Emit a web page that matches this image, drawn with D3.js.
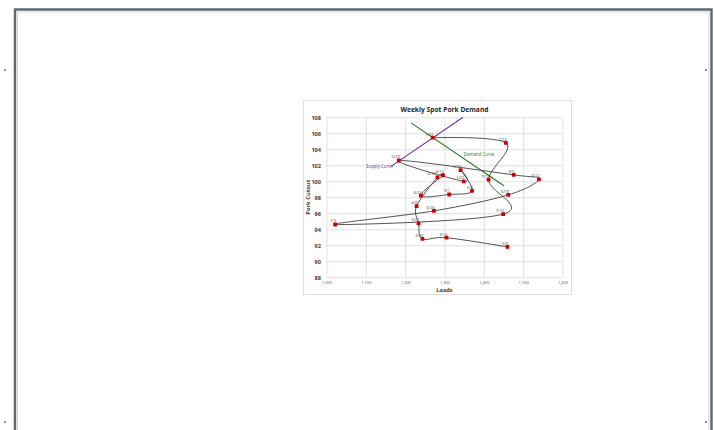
<!DOCTYPE html>
<html>
<head>
<meta charset="utf-8">
<script src="https://cdn.jsdelivr.net/npm/d3@7"></script>
<style>
  html, body { margin: 0; padding: 0; background: #ffffff; }
  svg { display: block; }
  text { font-family: "Open Sans", "Liberation Sans", sans-serif; }
</style>
</head>
<body>
<svg id="page" width="714" height="430"></svg>
<script>
// Weekly observations: week ending, loads sold, pork cutout value
const weeks = ["3/6","3/13","3/20","3/27","4/3","4/10","4/17","4/24","5/1","5/8","5/15","5/22",
               "5/29","6/5","6/12","6/19","6/26","7/3","7/10","7/17","7/24","7/31"];
const loads = [1460, 1305, 1244, 1234, 1229, 1282, 1296, 1240, 1312, 1370, 1341, 1349,
               1184, 1476, 1540, 1462, 1273, 1022, 1449, 1412, 1456, 1270];
const cutout = [91.8, 92.95, 92.8, 94.75, 96.9, 100.5, 100.75, 98.2, 98.35, 98.8, 101.4, 100.0,
                102.6, 100.8, 100.25, 98.3, 96.3, 94.6, 95.9, 100.2, 104.8, 105.45];

// Reference curves (two end points each)
const supplyLoads = [1165, 1347];
const supplyCutout = [101.9, 108];
const demandLoads = [1215, 1451];
const demandCutout = [107.3, 99.45];

// Axis ticks
const xTicks = [1000, 1100, 1200, 1300, 1400, 1500, 1600];
const yTicks = [88, 90, 92, 94, 96, 98, 100, 102, 104, 106, 108];

const svg = d3.select("#page");
const W = 714, H = 430;

// Document page frame
svg.append("path")
  .attr("d", `M15,${H + 5} V9.5 H711.5 V${H + 5}`)
  .attr("fill", "none").attr("stroke", "#5f6973").attr("stroke-width", 2.4);
svg.append("path")
  .attr("d", `M17.5,${H + 5} V12 H709 V${H + 5}`)
  .attr("fill", "none").attr("stroke", "#c3c8cd").attr("stroke-width", 0.8);
[[5, 70], [5, 422], [706, 70], [706, 422]].forEach(([cx, cy]) => {
  svg.append("rect").attr("x", cx - 1).attr("y", cy - 1).attr("width", 2).attr("height", 2)
    .attr("fill", "#8a8f94");
});

// Chart area box
const box = { x: 303.5, y: 100.5, w: 268, h: 194 };
svg.append("rect")
  .attr("x", box.x).attr("y", box.y).attr("width", box.w).attr("height", box.h)
  .attr("fill", "#ffffff").attr("stroke", "#d9d9d9").attr("stroke-width", 0.8);

// Plot area
const plot = { left: 326.5, right: 562.5, top: 117.3, bottom: 277.3 };
const x = d3.scaleLinear().domain([1000, 1600]).range([plot.left, plot.right]);
const y = d3.scaleLinear().domain([88, 108]).range([plot.bottom, plot.top]);

// Gridlines
const grid = svg.append("g");
grid.append("g")
  .attr("transform", `translate(0,${plot.bottom})`)
  .call(d3.axisBottom(x).tickValues(xTicks).tickSize(-(plot.bottom - plot.top)).tickFormat(""))
  .call(g => g.select(".domain").remove())
  .call(g => g.selectAll("line").attr("stroke", "#d9d9d9").attr("stroke-width", 0.8));
grid.append("g")
  .attr("transform", `translate(${plot.left},0)`)
  .call(d3.axisLeft(y).tickValues(yTicks).tickSize(-(plot.right - plot.left)).tickFormat(""))
  .call(g => g.select(".domain").remove())
  .call(g => g.selectAll("line").attr("stroke", "#d9d9d9").attr("stroke-width", 0.8));

// Axis tick labels
svg.append("g")
  .attr("transform", `translate(0,${plot.bottom})`)
  .call(d3.axisBottom(x).tickValues(xTicks).tickSize(0).tickPadding(4).tickFormat(d3.format(",")))
  .call(g => g.select(".domain").remove())
  .call(g => g.selectAll("text").attr("font-size", 4.0).attr("fill", "#595959")
    .attr("font-family", "'Open Sans', sans-serif"));
svg.append("g")
  .attr("transform", `translate(${plot.left},0)`)
  .call(d3.axisLeft(y).tickValues(yTicks).tickSize(0).tickPadding(5.5).tickFormat(d3.format("d")))
  .call(g => g.select(".domain").remove())
  .call(g => g.selectAll("text").attr("font-size", 5.6).attr("font-weight", "bold").attr("fill", "#404040")
    .attr("font-family", "'Open Sans', sans-serif"));

// Titles
svg.append("text")
  .attr("x", (plot.left + plot.right) / 2).attr("y", 108.5)
  .attr("text-anchor", "middle").attr("dominant-baseline", "central")
  .attr("font-size", 7.4).attr("font-weight", "bold").attr("fill", "#262626")
  .attr("textLength", 88).attr("lengthAdjust", "spacingAndGlyphs")
  .text("Weekly Spot Pork Demand");
svg.append("text")
  .attr("x", (plot.left + plot.right) / 2).attr("y", 290)
  .attr("text-anchor", "middle").attr("dominant-baseline", "central")
  .attr("font-size", 5.6).attr("font-weight", "bold").attr("fill", "#404040")
  .text("Loads");
svg.append("text")
  .attr("transform", `translate(307.5,${(plot.top + plot.bottom) / 2}) rotate(-90)`)
  .attr("text-anchor", "middle").attr("dominant-baseline", "central")
  .attr("font-size", 5.8).attr("font-weight", "bold").attr("fill", "#404040")
  .text("Pork Cutout");

// Supply and demand reference lines
const straight = d3.line().x(d => x(d[0])).y(d => y(d[1]));
svg.append("path")
  .attr("d", straight(d3.zip(supplyLoads, supplyCutout)))
  .attr("fill", "none").attr("stroke", "#7030a0").attr("stroke-width", 1.1);
svg.append("path")
  .attr("d", straight(d3.zip(demandLoads, demandCutout)))
  .attr("fill", "none").attr("stroke", "#1e7a1e").attr("stroke-width", 1.1);
svg.append("text")
  .attr("x", x(supplyLoads[0]) + 1.5).attr("y", y(supplyCutout[0]) - 0.5)
  .attr("text-anchor", "end").attr("dominant-baseline", "central")
  .attr("font-size", 4.4).attr("fill", "#7030a0").text("Supply Curve");
svg.append("text")
  .attr("x", 479).attr("y", 154)
  .attr("text-anchor", "middle").attr("dominant-baseline", "central")
  .attr("font-size", 4.4).attr("fill", "#1e7a1e").text("Demand Curve");

// Weekly path, smoothed
const pts = weeks.map((w, i) => ({ w, l: loads[i], c: cutout[i] }));
const smooth = d3.line().x(d => x(d.l)).y(d => y(d.c)).curve(d3.curveCardinal.tension(0));
svg.append("path")
  .attr("d", smooth(pts))
  .attr("fill", "none").attr("stroke", "#404040").attr("stroke-width", 0.9);

// Markers and week labels (labels sit up-left of their marker; 4/10 is
// pushed a little further left so it clears the neighbouring 4/17 label)
const labelShift = { "4/10": -2.6 };
svg.append("g").selectAll("rect").data(pts).join("rect")
  .attr("x", d => x(d.l) - 1.9).attr("y", d => y(d.c) - 1.9)
  .attr("width", 3.8).attr("height", 3.8).attr("rx", 0.6)
  .attr("fill", "#d10000");
svg.append("g").selectAll("text").data(pts).join("text")
  .attr("x", d => x(d.l) + 0.8 + (labelShift[d.w] || 0)).attr("y", d => y(d.c) - 3.6)
  .attr("text-anchor", "end").attr("dominant-baseline", "central")
  .attr("font-size", 3.9).attr("fill", "#404040")
  .text(d => d.w);
</script>
</body>
</html>
